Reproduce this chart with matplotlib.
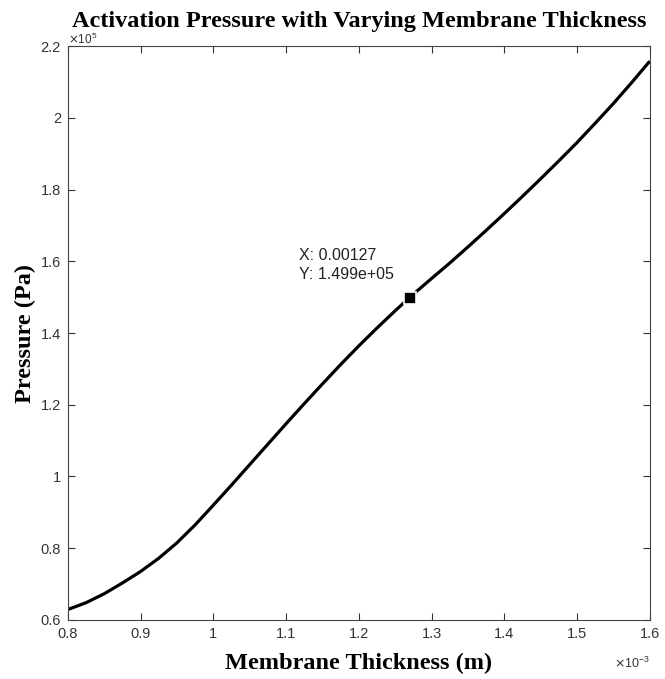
import numpy as np
import matplotlib
matplotlib.use("Agg")
import matplotlib.pyplot as plt
from matplotlib.ticker import FuncFormatter

# thickness in 1e-3 m, pressure in 1e5 Pa
THICKNESS = [0.80, 0.825, 0.85, 0.875, 0.90, 0.925, 0.95, 0.975, 1.00, 1.025,
             1.05, 1.075, 1.10, 1.125, 1.15, 1.175, 1.20, 1.225, 1.25, 1.27,
             1.30, 1.325, 1.35, 1.375, 1.40, 1.425, 1.45, 1.475, 1.50, 1.525,
             1.55, 1.575, 1.60]
PRESSURE = [0.629, 0.648, 0.673, 0.703, 0.735, 0.772, 0.815, 0.865, 0.920, 0.976,
            1.033, 1.090, 1.147, 1.203, 1.258, 1.312, 1.364, 1.414, 1.462, 1.4995,
            1.552, 1.595, 1.640, 1.686, 1.733, 1.781, 1.830, 1.880, 1.931, 1.985,
            2.040, 2.098, 2.158]
TIP_X = 1.27
TIP_Y = 1.499

XTICKS = [0.8, 0.9, 1.0, 1.1, 1.2, 1.3, 1.4, 1.5, 1.6]
YTICKS = [0.6, 0.8, 1.0, 1.2, 1.4, 1.6, 1.8, 2.0, 2.2]

serif = "Liberation Serif"
sans = "Liberation Sans"

fig = plt.figure(figsize=(6.65, 6.79), dpi=100)
ax = fig.add_axes([0.102, 0.087, 0.875, 0.845])

ax.plot(THICKNESS, PRESSURE, color="black", lw=2.3,
        solid_joinstyle="round", solid_capstyle="butt")
ax.plot([TIP_X], [TIP_Y], marker="s", ms=8, color="black", mec="white", mew=1.2)
ax.text(1.118, 1.59, "X: 0.00127\nY: 1.499e+05", fontsize=11.5, family=sans,
        ha="left", va="center", linespacing=1.3, color="#222222")

ax.set_xlim(0.8, 1.6)
ax.set_ylim(0.6, 2.2)
ax.set_xticks(XTICKS)
ax.set_yticks(YTICKS)
fmt = FuncFormatter(lambda v, p: "%g" % round(v, 3))
ax.xaxis.set_major_formatter(fmt)
ax.yaxis.set_major_formatter(fmt)
ax.tick_params(direction="in", top=True, right=True, length=5, width=0.8,
               labelsize=10.5, colors="#333333", pad=5)
for lab in ax.get_xticklabels() + ax.get_yticklabels():
    lab.set_family(sans)
for s in ax.spines.values():
    s.set_linewidth(0.8)
    s.set_color("#444444")

ax.text(0.0, 0.998, r"$\times\mathregular{10^{5}}$", transform=ax.transAxes,
        fontsize=8.5, family=sans, ha="left", va="bottom", color="#333333")
ax.text(1.0, -0.062, r"$\times\mathregular{10^{-3}}$", transform=ax.transAxes,
        fontsize=9, family=sans, ha="right", va="top", color="#333333")

ax.set_title("Activation Pressure with Varying Membrane Thickness",
             family=serif, fontweight="bold", fontsize=17.5, pad=14)
ax.set_xlabel("Membrane Thickness (m)", family=serif, fontweight="bold",
              fontsize=17.5, labelpad=9)
ax.set_ylabel("Pressure (Pa)", family=serif, fontweight="bold",
              fontsize=17.5, labelpad=3)

fig.savefig("out.png", dpi=100)
